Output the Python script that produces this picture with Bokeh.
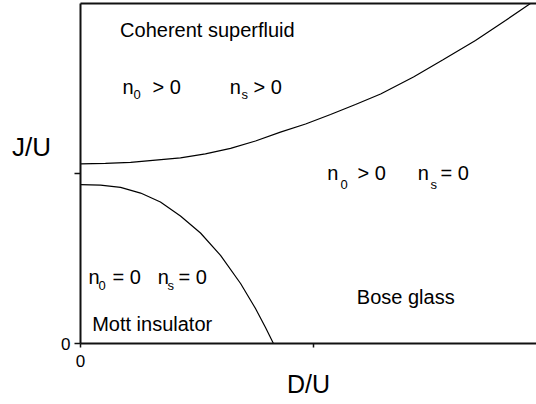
from bokeh.plotting import figure
from bokeh.models import LinearAxis, FixedTicker, Range1d, ColumnDataSource
from bokeh.core.properties import value
from bokeh.embed import file_html
from bokeh.resources import INLINE

# ---- data ----
upper_x = [0.0, 0.107, 0.215, 0.322, 0.429, 0.536, 0.644, 0.751, 0.858, 0.966,
           1.073, 1.180, 1.288, 1.429, 1.554, 1.695, 1.824, 1.931]
upper_y = [1.057, 1.060, 1.066, 1.079, 1.092, 1.115, 1.148, 1.191, 1.243, 1.291,
           1.347, 1.406, 1.468, 1.568, 1.668, 1.782, 1.900, 2.000]
lower_x = [0.0, 0.086, 0.172, 0.258, 0.343, 0.429, 0.515, 0.601, 0.687, 0.751, 0.794, 0.828]
lower_y = [0.935, 0.932, 0.918, 0.885, 0.832, 0.750, 0.650, 0.518, 0.353, 0.206, 0.094, 0.0]
x_ticks = [0, 1]
y_ticks = [0, 1]
tick_label_overrides = {0: "0", 1: ""}

# region labels (main text) and subscripts
main_text = ["Coherent superfluid",
             "n", "> 0", "n", "> 0",
             "n", "> 0", "n", "= 0",
             "n", "= 0", "n", "= 0",
             "Bose glass", "Mott insulator"]
main_x = [0.170,
          0.180, 0.309, 0.640, 0.742,
          1.059, 1.189, 1.447, 1.545,
          0.034, 0.137, 0.331, 0.421,
          1.186, 0.050]
main_y = [1.847,
          1.506, 1.506, 1.506, 1.506,
          1.003, 1.003, 1.003, 1.003,
          0.394, 0.394, 0.394, 0.394,
          0.276, 0.112]
sub_text = ["0", "s", "0", "s", "0", "s"]
sub_x = [0.227, 0.691, 1.116, 1.502, 0.077, 0.373]
sub_y = [1.465, 1.465, 0.935, 0.935, 0.341, 0.341]

FONT = "Liberation Sans"

p = figure(width=536, height=404, output_backend="svg", toolbar_location=None,
           x_range=Range1d(0, 1.957), y_range=Range1d(0, 2.0),
           min_border_left=80, min_border_right=0, min_border_top=3,
           min_border_bottom=61)
p.xgrid.visible = False
p.ygrid.visible = False
p.outline_line_color = None
p.background_fill_color = "white"
p.border_fill_color = "white"

xa = p.below[0]
ya = p.left[0]
for ax, ticks in ((xa, x_ticks), (ya, y_ticks)):
    ax.ticker = FixedTicker(ticks=ticks)
    ax.major_label_overrides = tick_label_overrides
    ax.axis_line_width = 2
    ax.axis_line_color = "#111111"
    ax.major_tick_line_color = "#111111"
    ax.major_tick_line_width = 1.5
    ax.major_tick_in = 0
    ax.minor_tick_line_color = None
    ax.major_label_text_font = FONT
    ax.major_label_text_font_size = "17px"
    ax.major_label_text_color = "black"
    ax.axis_label_text_font = FONT
    ax.axis_label_text_font_style = "normal"
    ax.axis_label_text_color = "black"
xa.major_tick_out = 4
xa.major_label_standoff = 7
ya.major_tick_out = 6
ya.major_label_standoff = 4

xa.axis_label = "D/U"
xa.axis_label_text_font_size = "25px"
xa.axis_label_standoff = 0

ya.axis_label = "J/U\n"
ya.axis_label_orientation = "horizontal"
ya.axis_label_text_font_size = "26px"
ya.axis_label_text_line_height = 1.8
ya.axis_label_standoff = 7

top_axis = LinearAxis(ticker=FixedTicker(ticks=[]), major_tick_out=0, major_tick_in=0,
                      minor_tick_out=0, minor_tick_in=0, major_label_standoff=0,
                      axis_line_width=2, axis_line_color="#111111")
p.add_layout(top_axis, "above")

p.line(upper_x, upper_y, line_color="black", line_width=1.2)
p.line(lower_x, lower_y, line_color="black", line_width=1.2)

main_src = ColumnDataSource(dict(x=main_x, y=main_y, text=main_text))
p.text(x="x", y="y", text="text", source=main_src, text_font=value(FONT),
       text_font_size=value("20px"), text_align="left", text_baseline="alphabetic",
       text_color="black")
sub_src = ColumnDataSource(dict(x=sub_x, y=sub_y, text=sub_text))
p.text(x="x", y="y", text="text", source=sub_src, text_font=value(FONT),
       text_font_size=value("13px"), text_align="left", text_baseline="alphabetic",
       text_color="black")

open("out.html", "w").write(file_html(p, INLINE))
